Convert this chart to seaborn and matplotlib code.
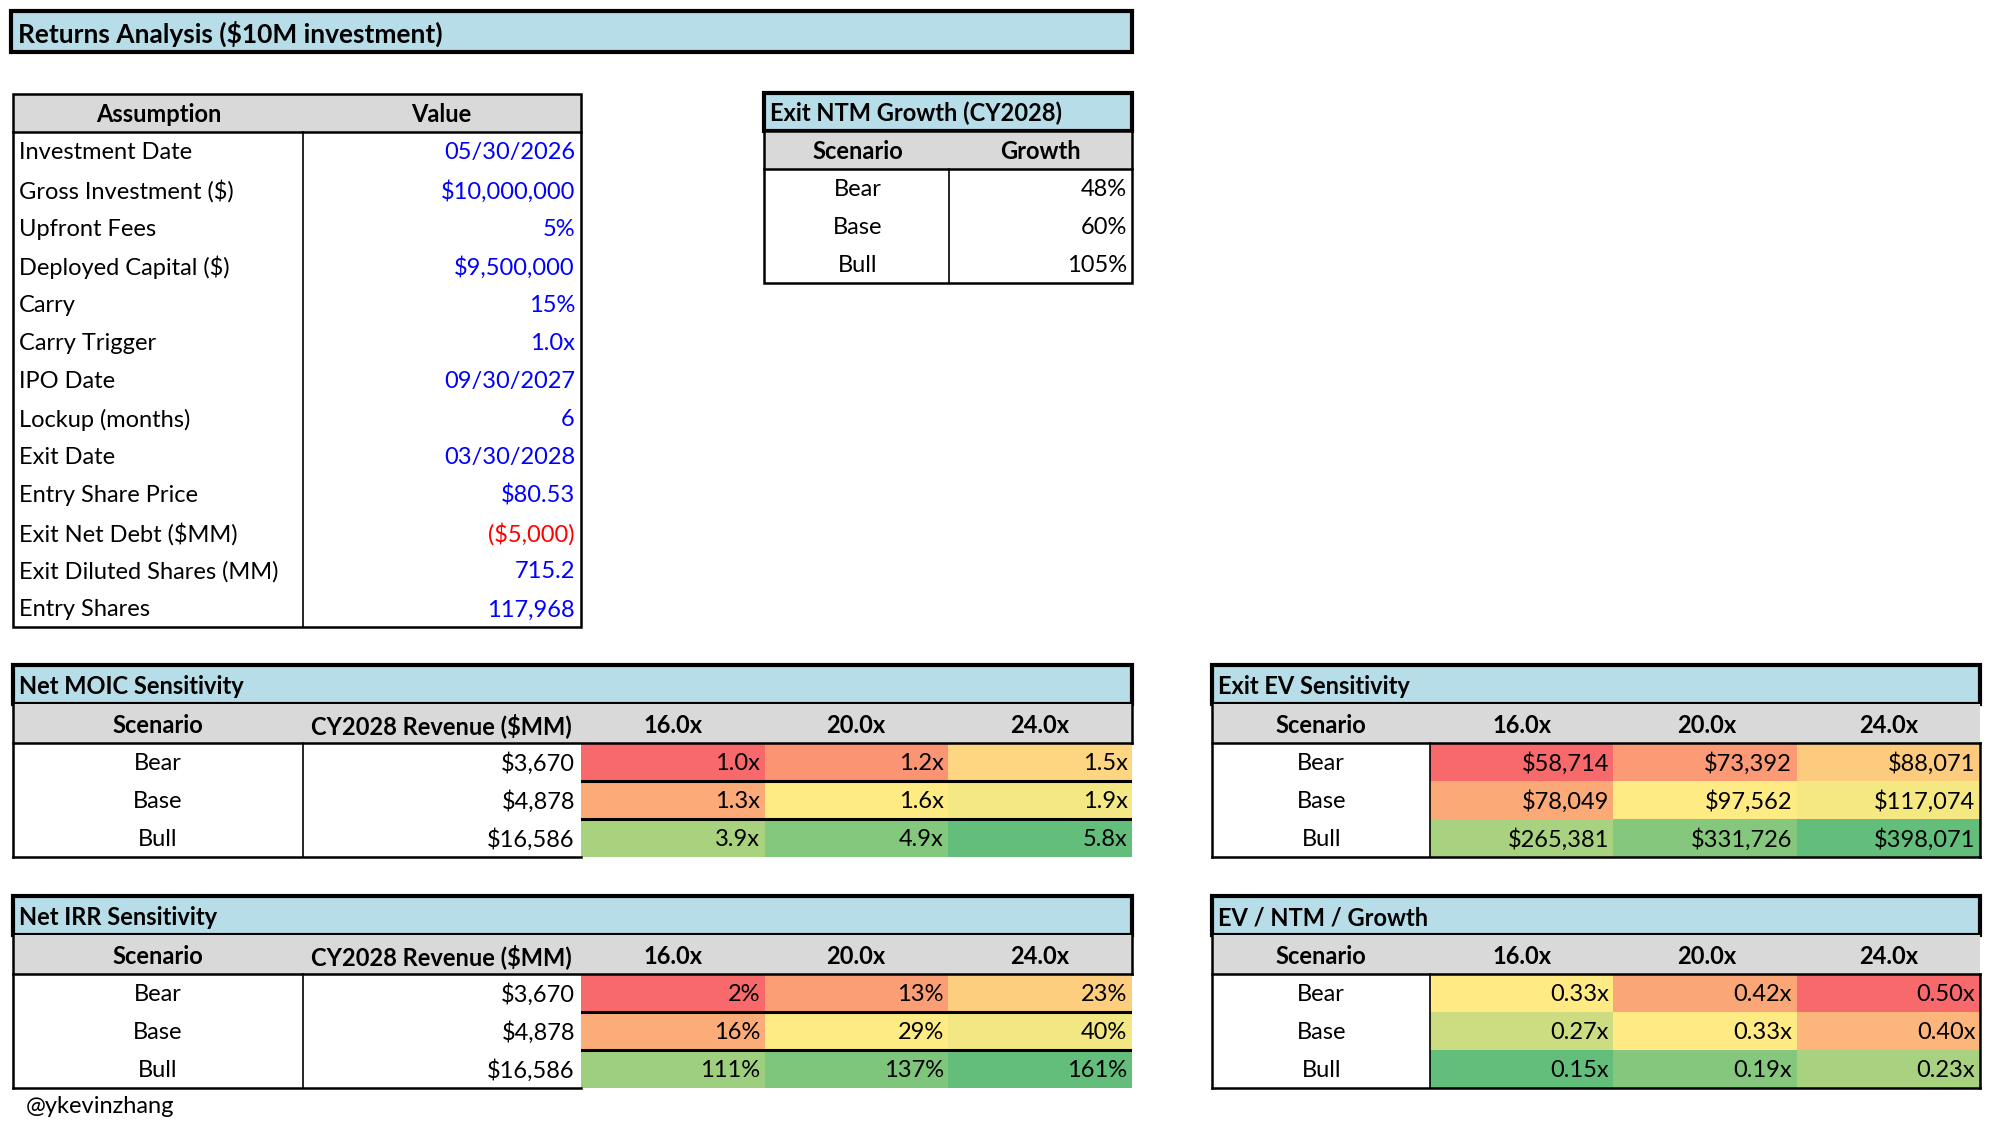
import matplotlib
matplotlib.use("Agg")
import matplotlib.pyplot as plt
from matplotlib.patches import Rectangle
from matplotlib.colors import LinearSegmentedColormap, TwoSlopeNorm
import seaborn as sns
import numpy as np

# ---- data ----
assumption_labels = ["Investment Date", "Gross Investment ($)", "Upfront Fees", "Deployed Capital ($)",
                     "Carry", "Carry Trigger", "IPO Date", "Lockup (months)", "Exit Date",
                     "Entry Share Price", "Exit Net Debt ($MM)", "Exit Diluted Shares (MM)", "Entry Shares"]
assumption_values = ["05/30/2026", "$10,000,000", "5%", "$9,500,000", "15%", "1.0x", "09/30/2027",
                     "6", "03/30/2028", "$80.53", "($5,000)", "715.2", "117,968"]

scenarios = ["Bear", "Base", "Bull"]
ntm_growth = [48, 60, 105]
revenue_2028 = [3670, 4878, 16586]
multiples = ["16.0x", "20.0x", "24.0x"]

net_moic = [[1.0, 1.2, 1.5], [1.3, 1.6, 1.9], [3.9, 4.9, 5.8]]
net_irr = [[2, 13, 23], [16, 29, 40], [111, 137, 161]]
exit_ev = [[58714, 73392, 88071], [78049, 97562, 117074], [265381, 331726, 398071]]
ev_ntm_growth = [[0.33, 0.42, 0.50], [0.27, 0.33, 0.40], [0.15, 0.19, 0.23]]

# ---- styling ----
plt.rcParams['font.family'] = ['Lato', 'DejaVu Sans']
FS = 17
DY = 1.5  # nudge text down a touch so it sits centred like Excel
BLUE_BAR = "#B7DEE8"
GREY = "#D9D9D9"
excel_cmap = LinearSegmentedColormap.from_list("excel", ["#F8696B", "#FFEB84", "#63BE7B"])

W, H = 1568, 884  # layout units (pixels of a scaled-down sheet)
fig = plt.figure(figsize=(19.9, 11.22), dpi=100)
ax = fig.add_axes([0, 0, 1, 1], zorder=2)
ax.set_xlim(0, W)
ax.set_ylim(H, 0)
ax.axis('off')


def txt(x, y, s, ha='left', bold=False, size=FS, color='black'):
    ax.text(x, y + DY, s, fontsize=size, fontweight='bold' if bold else 'normal',
            ha=ha, va='center', color=color)


def rect(x0, y0, x1, y1, fc='none', lw=0.0):
    ax.add_patch(Rectangle((x0, y0), x1 - x0, y1 - y0, facecolor=fc,
                           edgecolor='black' if lw else 'none', linewidth=lw))


def hline(x0, x1, y, lw=1.8):
    ax.plot([x0, x1], [y, y], color='black', lw=lw, solid_capstyle='projecting')


def vline(x, y0, y1, lw=1.8):
    ax.plot([x, x], [y0, y1], color='black', lw=lw, solid_capstyle='projecting')


def title_bar(x0, x1, y0, y1, text, size=FS):
    rect(x0, y0, x1, y1, fc=BLUE_BAR, lw=3.0)
    txt(x0 + 5, (y0 + y1) / 2, text, bold=True, size=size)


def heat(x0, x1, y0, y1, values, labels, reverse=False, row_lines=False):
    vals = np.array(values, dtype=float)
    hax = fig.add_axes([x0 / W, 1 - y1 / H, (x1 - x0) / W, (y1 - y0) / H], zorder=1)
    cmap = excel_cmap.reversed() if reverse else excel_cmap
    norm = TwoSlopeNorm(vmin=vals.min(), vcenter=np.median(vals), vmax=vals.max())
    sns.heatmap(vals, ax=hax, cmap=cmap, norm=norm, cbar=False,
                xticklabels=False, yticklabels=False, linewidths=0)
    for i in range(vals.shape[0]):
        for j in range(vals.shape[1]):
            hax.text(j + 0.975, i + 0.5 + DY / 30, labels[i][j], ha='right', va='center', fontsize=FS)
    if row_lines:
        for r in range(1, vals.shape[0]):
            hax.axhline(r, color='black', lw=2.2)
    return hax


# ---- main title ----
title_bar(9, 892, 9, 41, "Returns Analysis ($10M investment)", size=19)

# ---- assumptions table ----
row_h = 30
ax_top, ax_hdr = 74, 104
rect(10, ax_top, 458, ax_hdr, fc=GREY)
txt(125, (ax_top + ax_hdr) / 2, "Assumption", ha='center', bold=True)
txt(348, (ax_top + ax_hdr) / 2, "Value", ha='center', bold=True)
bottom = ax_hdr + row_h * len(assumption_labels)
for i, (lab, val) in enumerate(zip(assumption_labels, assumption_values)):
    yc = ax_hdr + row_h * (i + 0.5)
    txt(15, yc, lab)
    txt(453, yc, val, ha='right', color='#FF0000' if val.startswith('(') else '#0000FF')
rect(10, ax_top, 458, bottom, lw=1.8)
hline(10, 458, ax_hdr)
vline(239, ax_hdr, bottom, lw=1.2)

# ---- exit NTM growth table ----
title_bar(602, 892, 73, 103, "Exit NTM Growth (CY2028)")
rect(602, 103, 892, 133, fc=GREY)
txt(676, 118, "Scenario", ha='center', bold=True)
txt(820, 118, "Growth", ha='center', bold=True)
for i, (s, g) in enumerate(zip(scenarios, ntm_growth)):
    yc = 133 + row_h * (i + 0.5)
    txt(676, yc, s, ha='center')
    txt(888, yc, f"{g}%", ha='right')
rect(602, 103, 892, 223, lw=1.8)
hline(602, 892, 133)
vline(748, 133, 223, lw=1.2)


# ---- sensitivity tables with revenue column (left side) ----
def left_table(y0, title, values, fmt):
    title_bar(10, 892, y0, y0 + 31, title)
    hy0, hy1 = y0 + 31, y0 + 61
    rect(10, hy0, 892, hy1, fc=GREY)
    txt(124, (hy0 + hy1) / 2, "Scenario", ha='center', bold=True)
    txt(348, (hy0 + hy1) / 2, "CY2028 Revenue ($MM)", ha='center', bold=True)
    col_edges = [458, 602, 747, 892]
    for k, m in enumerate(multiples):
        txt((col_edges[k] + col_edges[k + 1]) / 2, (hy0 + hy1) / 2, m, ha='center', bold=True)
    vline(10, hy0, hy1 + 90)
    vline(892, hy0, hy1)
    hline(10, 892, hy1)
    for i, (s, r) in enumerate(zip(scenarios, revenue_2028)):
        yc = hy1 + row_h * (i + 0.5)
        txt(124, yc, s, ha='center')
        txt(453, yc, f"${r:,}", ha='right')
    vline(239, hy1, hy1 + 90, lw=1.2)
    hline(10, 458, hy1 + 90)
    labels = [[fmt(v) for v in row] for row in values]
    heat(458, 892, hy1, hy1 + 90, values, labels, row_lines=True)


left_table(524, "Net MOIC Sensitivity", net_moic, lambda v: f"{v:.1f}x")
left_table(706, "Net IRR Sensitivity", net_irr, lambda v: f"{v:.0f}%")


# ---- sensitivity tables without revenue column (right side) ----
def right_table(y0, title, values, fmt, reverse=False):
    title_bar(955, 1560, y0, y0 + 31, title)
    hy0, hy1 = y0 + 31, y0 + 61
    rect(955, hy0, 1560, hy1, fc=GREY)
    txt(1041, (hy0 + hy1) / 2, "Scenario", ha='center', bold=True)
    col_edges = [1127, 1272, 1417, 1560]
    for k, m in enumerate(multiples):
        txt((col_edges[k] + col_edges[k + 1]) / 2, (hy0 + hy1) / 2, m, ha='center', bold=True)
    for i, s in enumerate(scenarios):
        txt(1041, hy1 + row_h * (i + 0.5), s, ha='center')
    vline(955, hy0, hy1 + 90)
    vline(1560, hy1, hy1 + 90)
    hline(955, 1560, hy1)
    hline(955, 1560, hy1 + 90)
    vline(1127, hy1, hy1 + 90, lw=1.2)
    labels = [[fmt(v) for v in row] for row in values]
    heat(1127, 1560, hy1, hy1 + 90, values, labels, reverse=reverse)


right_table(524, "Exit EV Sensitivity", exit_ev, lambda v: f"${v:,.0f}")
right_table(706, "EV / NTM / Growth", ev_ntm_growth, lambda v: f"{v:.2f}x", reverse=True)

txt(20, 870, "@ykevinzhang")

fig.savefig("out.png", dpi=100, facecolor='white')
